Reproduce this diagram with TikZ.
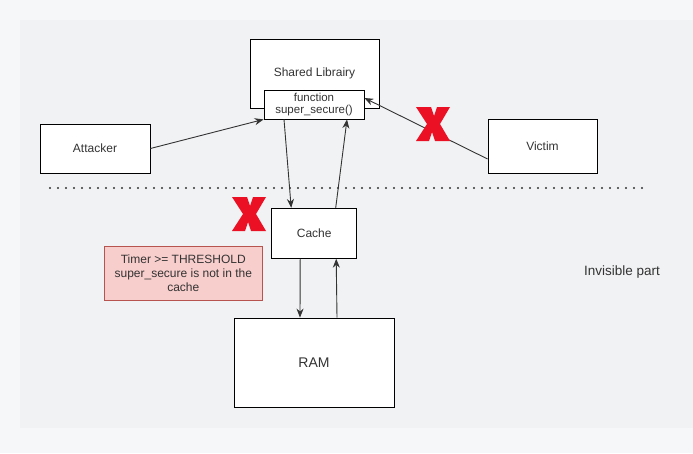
\documentclass[tikz,border=0pt]{standalone}
\usepackage{fontspec}
\setmainfont{Liberation Sans}
\usetikzlibrary{arrows.meta,positioning,calc}
\definecolor{PageGray}{HTML}{F6F7F9}
\definecolor{CanvasGray}{HTML}{F1F2F4}
\definecolor{InkGray}{HTML}{333333}
\definecolor{NotePink}{HTML}{F8CECC}
\definecolor{NoteRed}{HTML}{B85450}
\definecolor{CrossRed}{HTML}{EC1024}

\begin{document}
\begin{tikzpicture}[x=1pt,y=-1pt,
  box/.style={draw=black,fill=white,line width=.8pt,inner sep=1pt,
    font=\fontsize{12}{14}\selectfont,text=InkGray,align=center},
  link/.style={InkGray,line width=.9pt,-{Stealth[length=9pt,width=7pt]}},
  redx/.style={fill=CrossRed}]
  \useasboundingbox (0,0) rectangle (693,453);
  \fill[PageGray] (0,0) rectangle (693,453);
  \fill[CanvasGray] (20,20) rectangle (693,428);

  \node[box,minimum width=129pt,minimum height=69pt] (shlib) at (314.5,73.5) {Shared Librairy};
  \node[box,minimum width=100pt,minimum height=29pt,
    font=\fontsize{11.5}{12.5}\selectfont] (func) at (314,104.5) {function\\super\_secure()};
  \node[box,minimum width=110pt,minimum height=49pt] (attacker) at (95,148.5) {Attacker};
  \node[box,minimum width=109pt,minimum height=54pt] (victim) at (542.5,146) {Victim};
  \node[box,minimum width=85pt,minimum height=50pt] (cache) at (314.2,233.3) {Cache};
  \node[box,minimum width=160pt,minimum height=89pt,
    font=\fontsize{14}{16}\selectfont] (ram) at (314,362.5) {RAM};
  \node[box,fill=NotePink,draw=NoteRed,minimum width=158pt,minimum height=54pt,
    font=\fontsize{12}{14}\selectfont] (note) at (183.3,273.3)
    {Timer >= THRESHOLD\\super\_secure is not in the\\cache};
  \node[text=InkGray,font=\fontsize{13.5}{15}\selectfont] (invis) at (622,272) {Invisible part};

  % visible / invisible border
  \coordinate (sepL) at (50,188);
  \coordinate (sepR) at (643,188);
  \draw[InkGray,line width=2.2pt,line cap=round,dash pattern=on 0pt off 8pt] (sepL) -- (sepR);

  \draw[link] (attacker.east) -- (func.south west);
  \draw[link] ([yshift=-13pt]victim.west) -- ([yshift=6.5pt]func.east);
  \draw[link] ([xshift=-30pt]func.south) -- ([xshift=-23pt]cache.north);
  \draw[link] ([xshift=21.5pt]cache.north) -- ([xshift=33pt]func.south);
  \draw[link] ([xshift=-14pt]cache.south) -- ([xshift=-14pt]ram.north);
  \draw[link] ([xshift=23pt]ram.north) -- ([xshift=22pt]cache.south);

  % red crosses
  \fill[redx,shift={(249,214)}] (-17,-17) -- (-2,-17) -- (1,-8) -- (4,-17) -- (17,-17)
    -- (7,0) -- (17,17) -- (2,17) -- (-1,8) -- (-4,17) -- (-17,17) -- (-6,0) -- cycle;
  \fill[redx,shift={(433,124)}] (-17,-17) -- (-2,-17) -- (1,-8) -- (4,-17) -- (17,-17)
    -- (7,0) -- (17,17) -- (2,17) -- (-1,8) -- (-4,17) -- (-17,17) -- (-6,0) -- cycle;
\end{tikzpicture}
\end{document}
